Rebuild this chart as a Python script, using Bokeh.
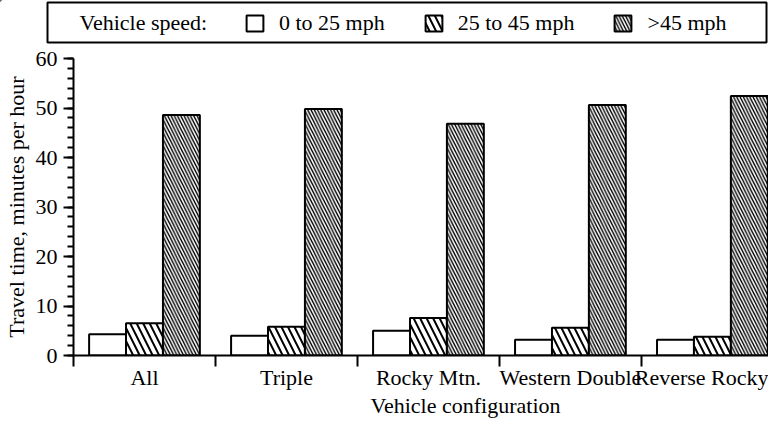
import numpy as np
from bokeh.plotting import figure
from bokeh.layouts import column
from bokeh.models import (ColumnDataSource, Range1d, FixedTicker, Legend, LegendItem,
                          Label, BoxAnnotation)
from bokeh.transform import dodge
from bokeh.embed import file_html
from bokeh.resources import INLINE

categories = ["All", "Triple", "Rocky Mtn.", "Western Double", "Reverse Rocky"]
speed_0_25 = [4.3, 4.0, 5.0, 3.2, 3.2]
speed_25_45 = [6.5, 5.8, 7.6, 5.6, 3.8]
speed_over_45 = [48.6, 49.8, 46.8, 50.6, 52.4]
series_labels = ["0 to 25 mph", "25 to 45 mph", ">45 mph"]
legend_title = "Vehicle speed:"
x_title = "Vehicle configuration"
y_title = "Travel time, minutes per hour"
y_major = [0, 10, 20, 30, 40, 50, 60]
y_minor = list(range(0, 61, 2))

FONT = "Liberation Serif"
FS = "22px"
W = 768
LEG_H, MAIN_H, TITLE_H = 45, 347, 26
LEFT, TOP = 68, 13
CAT_PX = 143
bw = 0.26

styles = [
    dict(fill_color="white", line_color="black", line_width=2),
    dict(fill_color="white", line_color="black", line_width=2,
         hatch_pattern="\\", hatch_scale=13, hatch_weight=2, hatch_color="black"),
    dict(fill_color="white", line_color="black", line_width=2,
         hatch_pattern="\\", hatch_scale=6.5, hatch_weight=1.4, hatch_color="black"),
]

# ---------------- main chart ----------------
xc = np.arange(len(categories)) + 0.5
src = ColumnDataSource(dict(x=xc, a=speed_0_25, b=speed_25_45, c=speed_over_45))

p = figure(width=W, height=MAIN_H, output_backend="svg", toolbar_location=None,
           x_range=Range1d(0, (W - LEFT) / CAT_PX), y_range=Range1d(0, 60),
           min_border_left=LEFT, min_border_right=0, min_border_top=TOP,
           min_border_bottom=0)
p.frame_align = False
p.outline_line_color = None
p.grid.visible = False

for col, off, st in zip(["a", "b", "c"], [-bw, 0, bw], styles):
    p.vbar(x=dodge("x", off, range=p.x_range), top=col, width=bw, source=src, **st)

xa = p.xaxis[0]
xa.ticker = FixedTicker(ticks=list(xc), minor_ticks=list(range(len(categories) + 1)))
xa.major_label_overrides = {float(x): c for x, c in zip(xc, categories)}
xa.major_tick_out = 0
xa.major_tick_in = 0
xa.minor_tick_out = 11
xa.minor_tick_in = 0
xa.minor_tick_line_width = 2
xa.major_label_standoff = -2

ya = p.yaxis[0]
ya.ticker = FixedTicker(ticks=y_major, minor_ticks=y_minor)
ya.major_tick_out = 10
ya.major_tick_in = 0
ya.minor_tick_out = 6
ya.minor_tick_in = 0
ya.major_tick_line_width = 2
ya.minor_tick_line_width = 2
ya.major_label_standoff = 6
ya.axis_label = y_title
ya.axis_label_standoff = 4

for ax in (xa, ya):
    ax.axis_line_width = 2
    ax.axis_line_color = "black"
    ax.major_tick_line_color = "black"
    ax.minor_tick_line_color = "black"
    ax.major_label_text_font = FONT
    ax.major_label_text_font_size = FS
    ax.major_label_text_color = "black"
    ax.axis_label_text_font = FONT
    ax.axis_label_text_font_size = FS
    ax.axis_label_text_font_style = "normal"
    ax.axis_label_text_color = "black"

# ---------------- legend strip ----------------
lg = figure(width=W, height=LEG_H, output_backend="svg", toolbar_location=None,
            x_range=Range1d(0, W), y_range=Range1d(0, LEG_H),
            x_axis_location=None, y_axis_location=None, min_border=0,
            min_border_left=0, min_border_right=0, min_border_top=0, min_border_bottom=0)
lg.frame_align = False
lg.outline_line_color = None
lg.grid.visible = False
# off-screen stand-ins so the legend can draw its swatches
dummy = [lg.vbar(x=[-W], top=[3 * LEG_H], bottom=[2 * LEG_H], width=1, **st) for st in styles]
lg.add_layout(BoxAnnotation(left=47, right=766, bottom=3, top=43, fill_alpha=0,
                            line_color="black", line_width=2, line_alpha=1))
lg.add_layout(Label(x=79, y=23, text=legend_title, text_font=FONT, text_font_size=FS,
                    text_align="left", text_baseline="middle", text_color="black"))
legend = Legend(items=[LegendItem(label=l, renderers=[r]) for l, r in zip(series_labels, dummy)],
                orientation="horizontal", location=(244, 9))
legend.label_text_font = FONT
legend.label_text_font_size = FS
legend.label_text_color = "black"
legend.glyph_width = 21
legend.glyph_height = 20
legend.label_standoff = 14
legend.spacing = 38
legend.padding = 0
legend.margin = 0
legend.border_line_color = None
legend.background_fill_alpha = 0
lg.add_layout(legend, "center")

# ---------------- x-axis title strip ----------------
tt = figure(width=W, height=TITLE_H, output_backend="svg", toolbar_location=None,
            x_range=Range1d(0, W), y_range=Range1d(0, TITLE_H),
            x_axis_location=None, y_axis_location=None, min_border=0,
            min_border_left=0, min_border_right=0, min_border_top=0, min_border_bottom=0)
tt.frame_align = False
tt.outline_line_color = None
tt.grid.visible = False
tt.add_layout(Label(x=465, y=TITLE_H / 2, text=x_title, text_font=FONT, text_font_size=FS,
                    text_align="center", text_baseline="middle", text_color="black"))

layout = column(lg, p, tt, spacing=0)
open("out.html", "w").write(file_html(layout, INLINE))
